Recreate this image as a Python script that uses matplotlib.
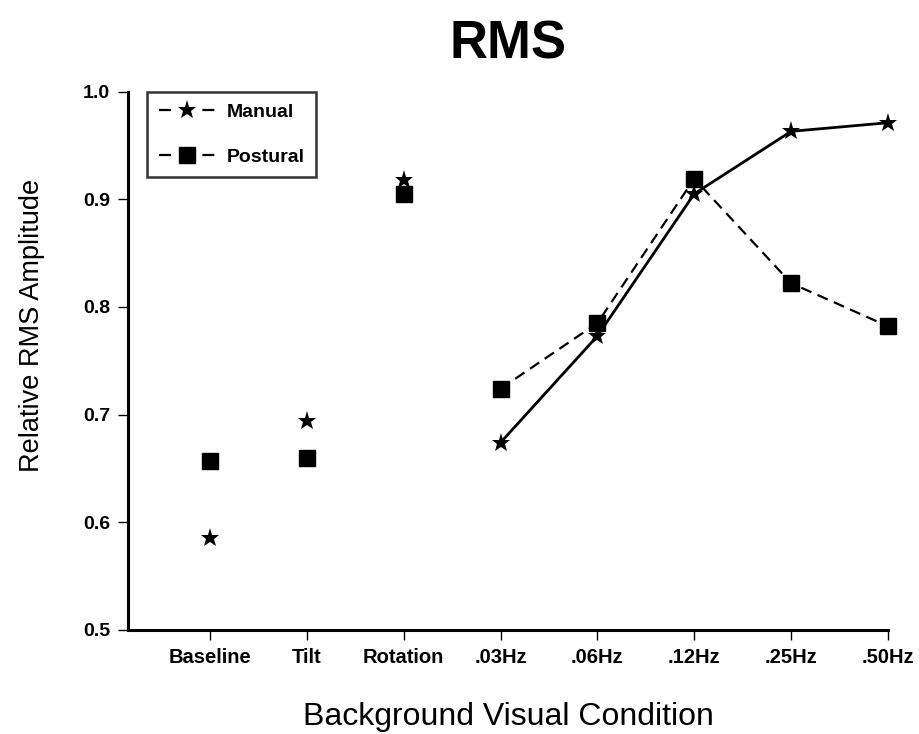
import matplotlib
matplotlib.use("Agg")
import matplotlib.pyplot as plt
from matplotlib.lines import Line2D
import numpy as np

plt.rcParams['font.family'] = ['Liberation Sans', 'DejaVu Sans']

categories = ["Baseline", "Tilt", "Rotation", ".03Hz", ".06Hz", ".12Hz", ".25Hz", ".50Hz"]
manual = [0.585, 0.694, 0.918, 0.674, 0.773, 0.905, 0.963, 0.971]
postural = [0.657, 0.660, 0.905, 0.724, 0.785, 0.919, 0.822, 0.782]
yticks = [0.5, 0.6, 0.7, 0.8, 0.9, 1.0]
ytick_labels = ["0.5", "0.6", "0.7", "0.8", "0.9", "1.0"]

x = np.arange(len(categories))
n_sep = 3  # first three conditions are unconnected

fig = plt.figure(figsize=(9.2, 7.34), dpi=100)
ax = fig.add_axes([128/920, 1-630/734, 760/920, (630-91.5)/734])

# unconnected points
ax.plot(x[:n_sep], manual[:n_sep], ls='none', marker='*', ms=14, color='black',
        markeredgewidth=0, clip_on=False)
ax.plot(x[:n_sep], postural[:n_sep], ls='none', marker='s', ms=12, color='black',
        clip_on=False)
# connected frequencies
ax.plot(x[n_sep:], postural[n_sep:], ls=(0, (5, 3)), lw=1.6, marker='s', ms=12,
        color='black', clip_on=False)
ax.plot(x[n_sep:], manual[n_sep:], ls='-', lw=2.0, marker='*', ms=14,
        markeredgewidth=0, color='black', clip_on=False)

ax.set_xlim(-0.846, 7)
ax.set_ylim(0.5, 1.0)
ax.set_xticks(x)
ax.set_xticklabels(categories, fontsize=14.5, fontweight='bold')
ax.set_yticks(yticks)
ax.set_yticklabels(ytick_labels, fontsize=14, fontweight='bold')
ax.tick_params(axis='both', direction='out', length=7, width=1, pad=6)
for s in ['top', 'right']:
    ax.spines[s].set_visible(False)
for s in ['left', 'bottom']:
    ax.spines[s].set_linewidth(2.2)

ax.set_title("RMS", fontsize=38, fontweight='bold', pad=24)
ax.set_ylabel("Relative RMS Amplitude", fontsize=19.5)
ax.yaxis.set_label_coords(-0.109, 0.565)
ax.set_xlabel("Background Visual Condition", fontsize=23, labelpad=25)

handles = [
    Line2D([], [], ls=(0, (5.4, 14.1)), lw=1.6, color='black', marker='*', ms=14, markeredgewidth=0),
    Line2D([], [], ls=(0, (5.4, 14.1)), lw=1.6, color='black', marker='s', ms=11),
]
leg = ax.legend(handles, ["Manual", "Postural"], loc='upper left',
                bbox_to_anchor=(0.025, 1.0), borderaxespad=0,
                prop={'weight': 'bold', 'size': 14},
                frameon=True, fancybox=False, edgecolor='black', handlelength=2.9,
                labelspacing=1.4, borderpad=0.6, handletextpad=0.6)
leg.get_frame().set_linewidth(1.8)

fig.savefig("out.png", dpi=100)
